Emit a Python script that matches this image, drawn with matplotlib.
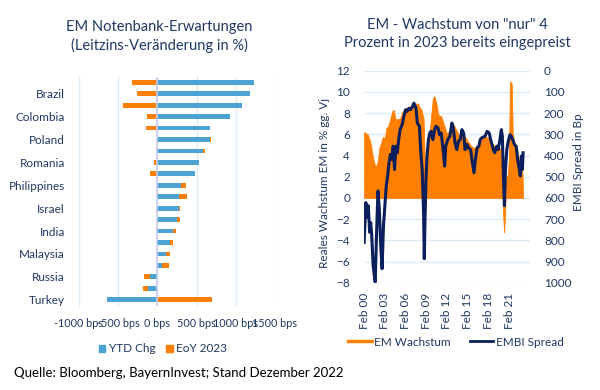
import numpy as np
import matplotlib.pyplot as plt
from matplotlib.lines import Line2D
from matplotlib.patches import Patch

plt.rcParams["font.family"] = ["Lato", "DejaVu Sans"]

# ---- left chart: central bank expectations (bps) ----
countries = ["", "Brazil", "", "Colombia", "", "Poland", "", "Romania", "",
             "Philippines", "", "Israel", "", "India", "", "Malaysia", "",
             "Russia", "", "Turkey"]
ytd_chg = [1237, 1181, 1075, 926, 672, 672, 587, 531, 480, 306,
           280, 280, 255, 204, 157, 106, 60, -94, -119, -642]
eoy_2023 = [-323, -255, -438, -132, -145, 10, 17, -38, -98, 55,
            98, 13, 34, 30, 42, 55, 89, -76, -64, 697]
bps_ticks = [-1000, -500, 0, 500, 1000, 1500]

# ---- right chart: EM growth (%) vs EMBI spread (bp) ----
growth_t = [2000.1, 2000.6, 2000.9, 2001.1, 2001.3, 2001.6, 2001.9, 2002.1,
            2002.3, 2002.6, 2002.8, 2003.1, 2003.3, 2003.6, 2003.9, 2004.2,
            2004.4, 2004.6, 2004.8, 2005.3, 2005.7, 2006.2, 2006.7, 2007.2,
            2007.6, 2007.9, 2008.1, 2008.4, 2008.7, 2008.85, 2009.05, 2009.25,
            2009.65, 2010.05, 2010.25, 2010.55, 2010.85, 2011.25, 2011.65,
            2012.05, 2012.55, 2012.95, 2013.45, 2013.95, 2014.45, 2014.95,
            2015.45, 2015.95, 2016.45, 2016.85, 2017.05, 2017.55, 2017.95,
            2018.45, 2018.95, 2019.45, 2019.85, 2020.05, 2020.2, 2020.35,
            2020.5, 2020.65, 2020.85, 2021.05, 2021.2, 2021.45, 2021.6,
            2021.85, 2022.25, 2022.55, 2022.85, 2023.0, 2023.1]
growth = [6.2, 6.0, 5.5, 4.9, 4.1, 3.2, 3.0, 3.6, 4.7, 5.3, 5.75, 5.6, 6.6,
          6.75, 7.5, 8.2, 8.3, 7.5, 7.4, 7.5, 8.2, 8.5, 8.6, 8.8, 8.9, 8.9,
          8.6, 8.3, 7.5, 3.9, 1.0, 4.9, 6.75, 9.4, 9.6, 8.9, 7.8, 7.7, 6.9,
          6.1, 6.3, 7.0, 6.4, 5.7, 6.0, 5.5, 5.0, 4.7, 4.9, 5.0, 5.5, 5.8,
          5.7, 5.3, 4.9, 4.6, 4.7, 2.7, -1.4, -3.25, -1.4, 1.9, 2.1, 3.6,
          11.0, 10.8, 6.1, 5.2, 4.6, 3.3, 2.7, 2.5, 0.2]

spread_t = [2000.1, 2000.35, 2000.55, 2000.7, 2000.9, 2001.05, 2001.2,
            2001.4, 2001.7, 2001.9, 2002.1, 2002.3, 2002.5, 2002.7, 2002.9,
            2003.1, 2003.3, 2003.5, 2003.7, 2003.9, 2004.1, 2004.3, 2004.5,
            2004.7, 2004.9, 2005.1, 2005.3, 2005.6, 2005.8, 2006.1, 2006.3,
            2006.6, 2006.8, 2007.1, 2007.3, 2007.6, 2007.8, 2008.1, 2008.3,
            2008.5, 2008.7, 2008.8, 2008.9, 2009.05, 2009.2, 2009.4, 2009.6,
            2009.8, 2010.05, 2010.3, 2010.5, 2010.8, 2011.0, 2011.25, 2011.5,
            2011.75, 2011.9, 2012.2, 2012.5, 2012.8, 2013.0, 2013.25, 2013.5,
            2013.75, 2014.0, 2014.25, 2014.5, 2014.7, 2015.0, 2015.2, 2015.5,
            2015.7, 2016.0, 2016.2, 2016.45, 2016.7, 2016.9, 2017.1, 2017.6,
            2017.9, 2018.2, 2018.4, 2018.8, 2019.0, 2019.3, 2019.5, 2019.75,
            2019.95, 2020.1, 2020.25, 2020.4, 2020.55, 2020.75, 2020.95,
            2021.2, 2021.4, 2021.6, 2021.85, 2022.1, 2022.3, 2022.55, 2022.7,
            2022.85, 2023.0, 2023.1]
spread = [810, 622, 690, 637, 762, 716, 778, 919, 997, 762, 567, 653, 825,
          934, 731, 637, 544, 497, 434, 395, 419, 356, 466, 356, 387, 325,
          278, 255, 223, 184, 192, 177, 184, 169, 153, 177, 247, 262, 387,
          466, 669, 887, 716, 512, 403, 325, 294, 286, 325, 278, 262, 270,
          302, 294, 364, 450, 356, 325, 309, 247, 270, 340, 372, 333, 325,
          278, 294, 372, 348, 364, 372, 419, 481, 419, 364, 356, 325, 317,
          309, 286, 294, 325, 372, 387, 356, 372, 325, 278, 309, 497, 637,
          466, 372, 333, 302, 309, 325, 348, 356, 419, 466, 497, 403, 466,
          387]

year_ticks = [2000.08 + 3 * k for k in range(8)]
year_labels = ["Feb 00", "Feb 03", "Feb 06", "Feb 09", "Feb 12",
               "Feb 15", "Feb 18", "Feb 21"]

navy_txt = "#1F3864"
blue = "#4BA3D3"
orange = "#FF8000"
navy = "#0B1F5C"
grid = "#DDEBF7"

W, H = 600, 390
fig = plt.figure(figsize=(6, 3.9), dpi=100)


def fx(x):
    return x / W


def fy(y):
    return 1 - y / H


# left chart
ax1 = fig.add_axes([fx(79), fy(305.5), fx(275) - fx(79), (305.5 - 76.5) / H])
y = np.arange(len(countries))
ytd = np.array(ytd_chg)
eoy = np.array(eoy_2023)
same_sign = np.sign(ytd) == np.sign(eoy)
eoy_left = np.where(same_sign, ytd, 0)
ax1.barh(y, ytd, height=0.42, color=blue, zorder=3)
ax1.barh(y, eoy, left=eoy_left, height=0.42, color=orange, zorder=3)
ax1.set_ylim(len(countries) - 0.5, -0.5)
ax1.set_xlim(-1000, 1500)
ax1.set_xticks(bps_ticks)
ax1.set_xticklabels([f"{v} bps" for v in bps_ticks])
ax1.set_yticks(y)
ax1.set_yticklabels(countries)
ax1.grid(axis="x", color=grid, lw=1, zorder=0)
ax1.axvline(0, color="#C5CBEF", lw=1.2, zorder=4)
for s in ax1.spines.values():
    s.set_visible(False)
ax1.tick_params(length=0, labelsize=8.5, labelcolor=navy_txt)
ax1.tick_params(axis="y", pad=10)
ax1.tick_params(axis="x", pad=9, labelsize=7.8)

fig.text(fx(159), fy(27), "EM Notenbank-Erwartungen", ha="center",
         va="center", fontsize=10.5, color=navy_txt)
fig.text(fx(159), fy(45), "(Leitzins-Veränderung in %)", ha="center",
         va="center", fontsize=10.5, color=navy_txt)

fig.legend(handles=[Patch(color=blue, label="YTD Chg"),
                    Patch(color=orange, label="EoY 2023")],
           loc="center", bbox_to_anchor=(fx(163), fy(349)), ncol=2,
           frameon=False, fontsize=8.5, labelcolor=navy_txt,
           handlelength=0.55, handleheight=0.55, handletextpad=0.3,
           columnspacing=0.9)

# right chart
ax2 = fig.add_axes([fx(364), fy(282.7), fx(530) - fx(364), 212 / H])
ax2.fill_between(growth_t, growth, 0, color=orange, lw=0.6,
                 edgecolor=orange, zorder=2)
ax2.set_ylim(-8, 12)
ax2.set_yticks(range(-8, 13, 2))
ax2.set_xlim(2000.08, 2024.1)
ax2.set_xticks(year_ticks)
ax2.set_xticklabels(year_labels, rotation=90)
ax2.grid(axis="y", color=grid, lw=1, zorder=0)
ax2.set_axisbelow(True)
for s in ax2.spines.values():
    s.set_visible(False)
ax2.tick_params(length=0, labelsize=8.5, labelcolor=navy_txt)
ax2.tick_params(axis="y", pad=10)
ax2.tick_params(axis="x", pad=7)

ax3 = ax2.twinx()
ax3.plot(spread_t, spread, color=navy, lw=2.2, zorder=3)
ax3.set_ylim(1000, 0)
ax3.set_yticks(range(0, 1001, 100))
for s in ax3.spines.values():
    s.set_visible(False)
ax3.tick_params(length=0, labelsize=8.5, labelcolor=navy_txt, pad=10)

fig.text(fx(325), fy(183), "Reales Wachstum EM in % gg. Vj", rotation=90,
         ha="center", va="center", fontsize=8.5, color=navy_txt)
fig.text(fx(579), fy(162), "EMBI Spread in Bp", rotation=90,
         ha="center", va="center", fontsize=8.5, color=navy_txt)
fig.text(fx(457), fy(25), 'EM - Wachstum von "nur" 4', ha="center",
         va="center", fontsize=10.5, color=navy_txt)
fig.text(fx(457), fy(43), "Prozent in 2023 bereits eingepreist",
         ha="center", va="center", fontsize=10.5, color=navy_txt)

fig.legend(handles=[Line2D([], [], color=orange, lw=2.5, label="EM Wachstum"),
                    Line2D([], [], color=navy, lw=2.0, label="EMBI Spread")],
           loc="center", bbox_to_anchor=(fx(456), fy(342)), ncol=2,
           frameon=False, fontsize=8.5, labelcolor=navy_txt,
           handlelength=2.0, handletextpad=0.2, columnspacing=1.6)

fig.text(fx(14), fy(373), "Quelle: Bloomberg, BayernInvest; Stand Dezember 2022",
         ha="left", va="center", fontsize=9.5, color="black")

fig.savefig("out.png", dpi=100)
